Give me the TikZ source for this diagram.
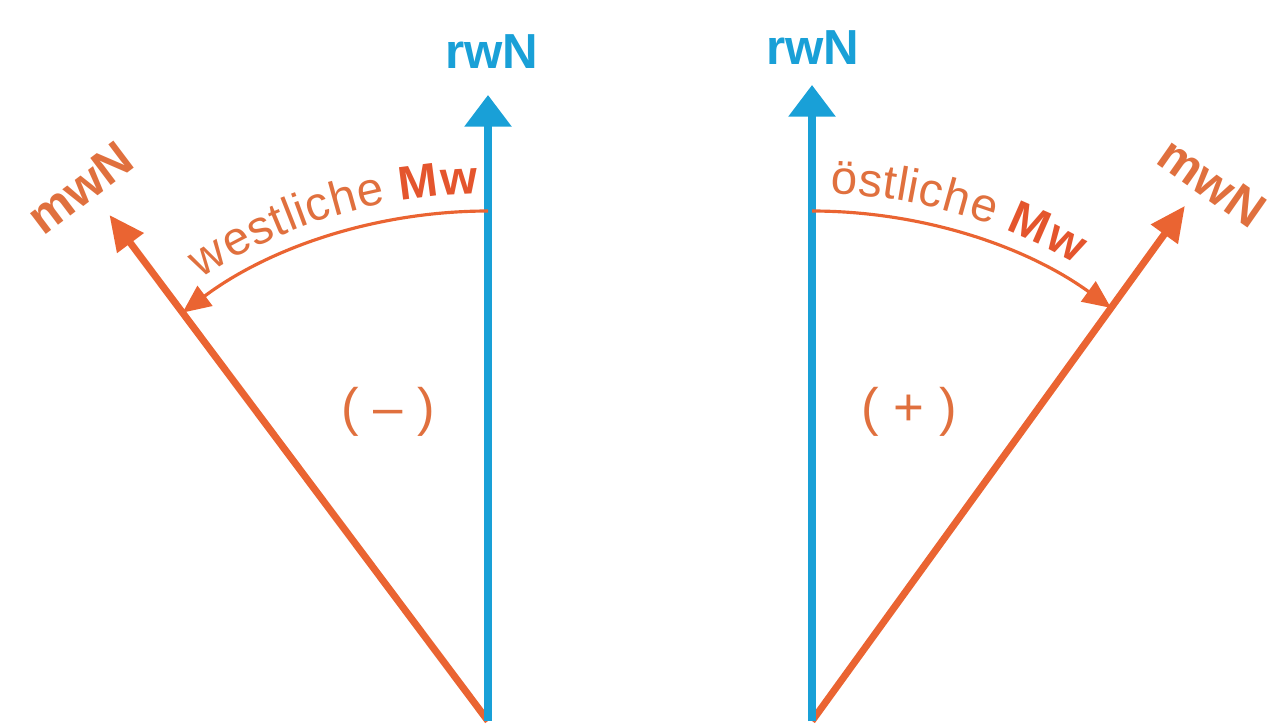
\documentclass[tikz,border=0pt]{standalone}
\usepackage{fontspec}
\setmainfont{Liberation Sans}
\usetikzlibrary{arrows.meta,decorations.text,calc}
\definecolor{rwblue}{RGB}{25,160,215}
\definecolor{mworange}{RGB}{234,100,50}
\definecolor{mwtext}{RGB}{224,112,62}
\definecolor{mwred}{RGB}{228,85,45}
\begin{document}
\begin{tikzpicture}[x=0.01cm,y=0.01cm,
  rwline/.style={draw=rwblue,line width=2pt,-{Triangle[width=13pt,length=9pt]}},
  mwline/.style={draw=mworange,line width=2pt,-{Triangle[width=9pt,length=10pt]}},
  mwarc/.style={draw=mworange,line width=0.9pt,-{Triangle[width=7pt,length=8pt]}},
  blabel/.style={text=rwblue,font=\bfseries\fontsize{14}{16}\selectfont,inner sep=0pt},
  olabel/.style={text=mwtext,font=\bfseries\fontsize{14}{16}\selectfont,inner sep=0pt},
  signlabel/.style={text=mwtext,font=\fontsize{15}{18}\selectfont,inner sep=0pt}]
\useasboundingbox (0,0) rectangle (1273,723);

% left diagram
\coordinate (LA) at (488,2);
\coordinate (LN) at (488,628);
\coordinate (LM) at ($(LA)+(126.8:632)$);
\coordinate (LS) at ($(LA)+(90:510)$);
\draw[mwline] (LA) -- (LM);
\draw[rwline] (LA) -- (LN);
\draw[mwarc] (LS) arc[start angle=90,end angle=126.8,radius=510];
\path[decorate,decoration={text along path,text align=center,raise=5pt,
  text={|\fontsize{13.5}{16}\selectfont\color{mwtext}|westliche |\fontsize{13.5}{16}\selectfont\bfseries\color{mwred}|Mw}}]
  ($(LA)+(126:510)$) arc[start angle=126,end angle=88,radius=510];
\node[blabel] (LrwN) at (492,671) {rwN};
\node[olabel,rotate=37] (LmwN) at (80,535) {mwN};
\node[signlabel] (Lsign) at (388,311) {( -- )};

% right diagram
\coordinate (RA) at (812,2);
\coordinate (RN) at (812,638);
\coordinate (RM) at ($(RA)+(54.1:636)$);
\coordinate (RS) at ($(RA)+(90:510)$);
\draw[mwline] (RA) -- (RM);
\draw[rwline] (RA) -- (RN);
\draw[mwarc] (RS) arc[start angle=90,end angle=54.1,radius=510];
\path[decorate,decoration={text along path,text align=center,raise=5pt,
  text={|\fontsize{13.5}{16}\selectfont\color{mwtext}|östliche |\fontsize{13.5}{16}\selectfont\bfseries\color{mwred}|Mw}}]
  ($(RA)+(92:510)$) arc[start angle=92,end angle=56,radius=510];
\node[blabel] (RrwN) at (813,675) {rwN};
\node[olabel,rotate=-35] (RmwN) at (1212,541) {mwN};
\node[signlabel] (Rsign) at (909,311) {( + )};
\end{tikzpicture}
\end{document}
